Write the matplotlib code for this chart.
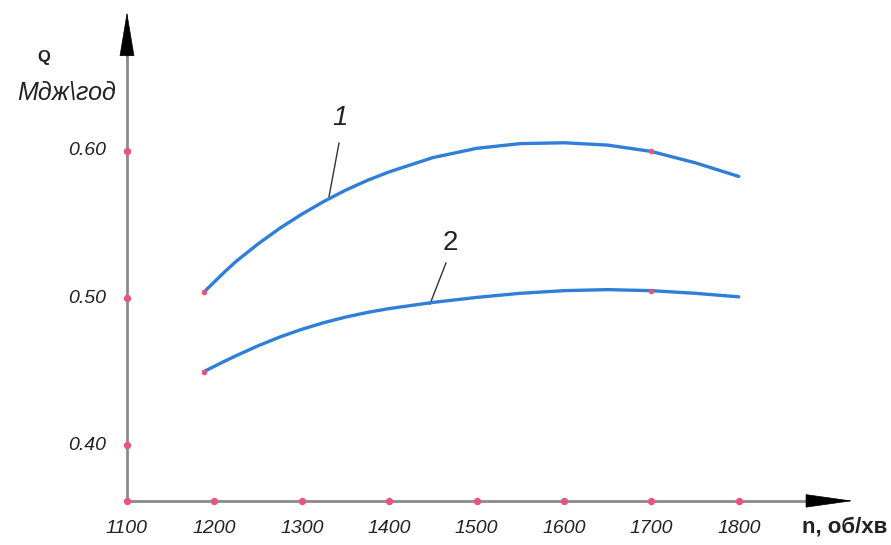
import matplotlib
matplotlib.use("Agg")
import matplotlib.pyplot as plt

# Engine speed, rpm, and heat output Q, MJ/h for the two curves
n_speed = [1188, 1210, 1225, 1250, 1275, 1300, 1325, 1350, 1375, 1400, 1450, 1500,
           1550, 1600, 1650, 1700, 1750, 1800]
q_curve1 = [0.5040, 0.5168, 0.5250, 0.5368, 0.5475, 0.5570, 0.5656, 0.5733, 0.5800, 0.5858,
            0.5955, 0.6018, 0.6050, 0.6056, 0.6040, 0.5997, 0.5920, 0.5827]
q_curve2 = [0.4500, 0.4565, 0.4608, 0.4675, 0.4735, 0.4787, 0.4832, 0.4870, 0.4902, 0.4928,
            0.4970, 0.5004, 0.5032, 0.5050, 0.5057, 0.5050, 0.5032, 0.5008]

# Measured points marked on the curves
mark_n = [1188, 1700]
mark_q1 = [0.5040, 0.5997]
mark_q2 = [0.4500, 0.5050]

x_ticks = [1100, 1200, 1300, 1400, 1500, 1600, 1700, 1800]
y_ticks = [0.40, 0.50, 0.60]
y_tick_labels = ["0.40", "0.50", "0.60"]

x_origin = 1100
y_origin = 0.362

curve_color = "#2f7fd8"
axis_color = "#8a8a8a"
dot_color = "#e8547a"
text_color = "#222222"

plt.rcParams["font.family"] = ["Liberation Sans", "DejaVu Sans"]

fig = plt.figure(figsize=(8.91, 5.45), dpi=100)
ax = fig.add_axes([0, 0, 1, 1])
ax.set_xlim(954.7, 1974.2)
ax.set_ylim(0.332, 0.7027)
ax.axis("off")

# Axes drawn as arrows
y_top = 0.6946
x_end = 1930.7
ax.plot([x_origin, x_origin], [y_origin, y_top - 0.02], color=axis_color, lw=2, solid_capstyle="butt", zorder=2)
ax.plot([x_origin, x_end - 40], [y_origin, y_origin], color=axis_color, lw=2, solid_capstyle="butt", zorder=2)
ax.annotate("", xy=(x_origin, y_top), xytext=(0, -32), textcoords="offset points",
            arrowprops=dict(arrowstyle="-|>,head_length=30,head_width=5", mutation_scale=1,
                            color="black", lw=0.5, shrinkA=0, shrinkB=0), zorder=3)
ax.annotate("", xy=(x_end, y_origin), xytext=(-33, 0), textcoords="offset points",
            arrowprops=dict(arrowstyle="-|>,head_length=32,head_width=4.5", mutation_scale=1,
                            color="black", lw=0.5, shrinkA=0, shrinkB=0), zorder=3)

# Tick dots on the axes
ax.scatter(x_ticks, [y_origin] * len(x_ticks), s=28, color=dot_color, zorder=4, linewidths=0)
ax.scatter([x_origin] * len(y_ticks), y_ticks, s=28, color=dot_color, zorder=4, linewidths=0)

# Tick labels
for xt in x_ticks:
    ax.text(xt, 0.3435, str(xt), ha="center", va="center", fontsize=14,
            style="italic", color=text_color)
for yt, lab in zip(y_ticks, y_tick_labels):
    ax.text(1076, yt, lab, ha="right", va="center", fontsize=14,
            style="italic", color=text_color)

# Curves
for q in (q_curve1, q_curve2):
    ax.plot(n_speed, q, color=curve_color, lw=2.4, solid_capstyle="round",
            solid_joinstyle="round", zorder=5)
ax.scatter(mark_n, mark_q1, s=16, color=dot_color, zorder=6, linewidths=0)
ax.scatter(mark_n, mark_q2, s=16, color=dot_color, zorder=6, linewidths=0)

# Curve labels with leader lines
ax.plot([1342.6, 1331.1], [0.6054, 0.5687], color="#333333", lw=1)
ax.text(1343.7, 0.6224, "1", ha="center", va="center", fontsize=20, style="italic", color=text_color)
ax.plot([1465, 1446.7], [0.5238, 0.4959], color="#333333", lw=1)
ax.text(1469.6, 0.5374, "2", ha="center", va="center", fontsize=20, color=text_color)

# Axis titles
ax.text(1005, 0.6639, "Q", ha="center", va="center", fontsize=12, fontweight="bold", color=text_color)
ax.text(1031, 0.6395, "Мдж\\год", ha="center", va="center", fontsize=18, style="italic", color=text_color)
ax.text(1921.5, 0.3442, "n, об/хв", ha="center", va="center", fontsize=16,
        fontweight="bold", color=text_color)

fig.savefig("out.png", dpi=100)
